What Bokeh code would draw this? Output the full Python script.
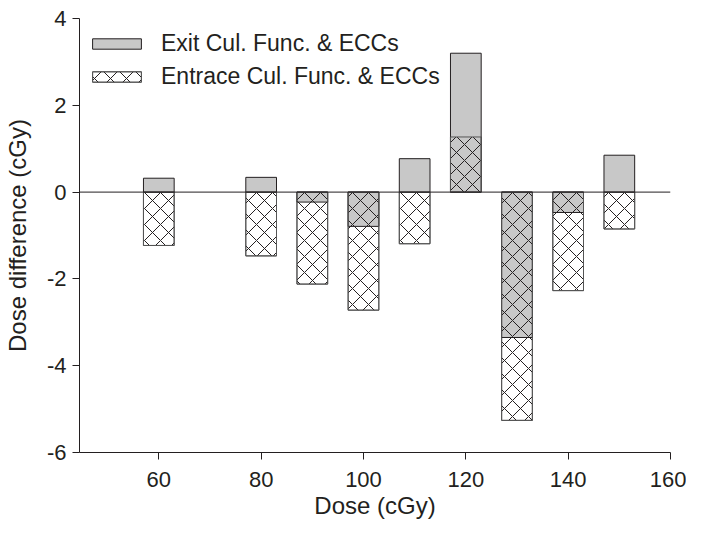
from bokeh.plotting import figure
from bokeh.models import Range1d, FixedTicker, Span, Legend, LegendItem, ColumnDataSource
from bokeh.embed import file_html
from bokeh.resources import INLINE

dose = [60, 80, 90, 100, 110, 120, 130, 140, 150]
exit_diff = [0.32, 0.34, -0.23, -0.79, 0.77, 3.20, -3.35, -0.47, 0.85]
entrance_diff = [-1.23, -1.47, -2.12, -2.72, -1.19, 1.27, -5.26, -2.27, -0.85]
x_ticks = [60, 80, 100, 120, 140, 160]
y_ticks = [-6, -4, -2, 0, 2, 4]
series_names = ["Exit Cul. Func. & ECCs", "Entrace Cul. Func. & ECCs"]

FONT = "Liberation Sans"
INK = "#231f20"

src = ColumnDataSource(dict(x=dose, ex=exit_diff, en=entrance_diff))

p = figure(width=686, height=521, output_backend="svg", toolbar_location=None,
           x_range=Range1d(44.5, 160), y_range=Range1d(-6, 4),
           min_border_left=78, min_border_right=16, min_border_top=18, min_border_bottom=66)
p.outline_line_color = None
p.xgrid.visible = False
p.ygrid.visible = False
p.background_fill_color = "white"
p.border_fill_color = "white"

r_en_bg = p.vbar(x="x", top="en", bottom=0, width=6, source=src, fill_color="white",
                 line_color="#555555", line_width=1)
r_ex = p.vbar(x="x", top="ex", bottom=0, width=6, source=src, fill_color="#c8c8c8",
              line_color=INK, line_width=1)
r_en_h = p.vbar(x="x", top="en", bottom=0, width=6, source=src, fill_alpha=0,
                hatch_pattern="diagonal_cross", hatch_color=INK, hatch_scale=16,
                hatch_weight=1, line_color="#555555", line_width=1)

p.add_layout(Span(location=0, dimension="width", line_color=INK, line_width=1))

for ax in (p.xaxis[0], p.yaxis[0]):
    ax.axis_line_color = INK
    ax.major_tick_line_color = INK
    ax.major_tick_out = 7
    ax.major_tick_in = 0
    ax.minor_tick_line_color = None
    ax.major_label_text_font = FONT
    ax.major_label_text_font_size = "22px"
    ax.major_label_text_color = INK
    ax.axis_label_text_font = FONT
    ax.axis_label_text_font_size = "24px"
    ax.axis_label_text_font_style = "normal"
    ax.axis_label_text_color = INK

p.xaxis.ticker = FixedTicker(ticks=x_ticks)
p.yaxis.ticker = FixedTicker(ticks=y_ticks)
p.yaxis.major_label_overrides = {t: str(t) for t in y_ticks}
p.xaxis.major_label_standoff = 12
p.yaxis.major_label_standoff = 6
p.xaxis.axis_label = "Dose (cGy)"
p.yaxis.axis_label = "Dose difference (cGy)"
p.xaxis.axis_label_standoff = 2
p.yaxis.axis_label_standoff = 13

legend = Legend(items=[LegendItem(label=series_names[0], renderers=[r_ex]),
                       LegendItem(label=series_names[1], renderers=[r_en_bg, r_en_h])],
                location=(7, 362))
legend.border_line_color = None
legend.background_fill_alpha = 0
legend.padding = 0
legend.margin = 0
legend.glyph_width = 61
legend.glyph_height = 13
legend.label_height = 24
legend.spacing = 6
legend.label_standoff = 14
legend.label_text_font = FONT
legend.label_text_font_size = "23px"
legend.label_text_color = INK
p.add_layout(legend)

open("out.html", "w").write(file_html(p, INLINE))
